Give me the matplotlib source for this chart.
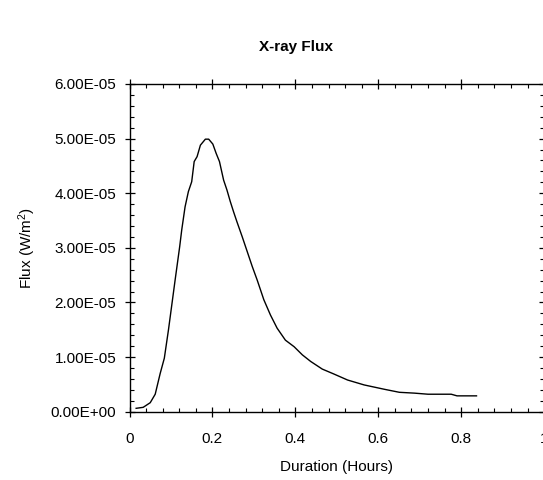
import numpy as np
import matplotlib
matplotlib.use("Agg")
import matplotlib.pyplot as plt
from matplotlib.ticker import MultipleLocator, FuncFormatter

# flux curve (hours, W/m^2 in units of 1e-5)
hours = [0.016, 0.033, 0.050, 0.062, 0.074, 0.084, 0.094, 0.110, 0.121, 0.126,
         0.134, 0.142, 0.150, 0.156, 0.163, 0.171, 0.183, 0.191, 0.201, 0.209,
         0.217, 0.227, 0.235, 0.243, 0.251, 0.259, 0.272, 0.284, 0.296, 0.308,
         0.324, 0.340, 0.356, 0.376, 0.397, 0.417, 0.437, 0.465, 0.493, 0.526,
         0.566, 0.615, 0.651, 0.687, 0.720, 0.776, 0.790, 0.837]
flux_e5 = [0.062, 0.08, 0.165, 0.32, 0.70, 0.98, 1.50, 2.41, 3.02, 3.33,
           3.75, 4.03, 4.21, 4.58, 4.67, 4.88, 4.99, 4.99, 4.90, 4.73,
           4.58, 4.24, 4.06, 3.85, 3.66, 3.48, 3.20, 2.93, 2.66, 2.41,
           2.05, 1.77, 1.53, 1.31, 1.19, 1.04, 0.92, 0.78, 0.69, 0.58,
           0.49, 0.41, 0.355, 0.34, 0.32, 0.32, 0.29, 0.29]
flux = np.array(flux_e5) * 1e-5

plt.rcParams['font.family'] = ['Liberation Sans', 'DejaVu Sans']
plt.rcParams['mathtext.default'] = 'regular'

fig = plt.figure(figsize=(5.43, 4.80), dpi=100)
ax = fig.add_axes([0.2385, 0.1423, 1.002 - 0.2385, 0.825 - 0.1423])

ax.plot(hours, flux, color='black', lw=1.0)

ax.set_xlim(0, 1)
ax.set_ylim(0, 6e-5)
ax.xaxis.set_major_locator(MultipleLocator(0.2))
ax.xaxis.set_minor_locator(MultipleLocator(0.04))
ax.yaxis.set_major_locator(MultipleLocator(1e-5))
ax.yaxis.set_minor_locator(MultipleLocator(2e-6))
ax.xaxis.set_major_formatter(FuncFormatter(lambda v, p: f"{v:g}"))
ax.yaxis.set_major_formatter(FuncFormatter(lambda v, p: f"{v:.2E}"))

ax.tick_params(which='major', direction='inout', length=7, width=0.9,
               top=True, right=True, labelsize=11)
ax.tick_params(axis='x', which='major', pad=11)
ax.tick_params(axis='y', which='major', pad=6)
ax.tick_params(which='minor', direction='in', length=3, width=0.8,
               top=True, right=True)
for s in ax.spines.values():
    s.set_linewidth(1.0)

ax.set_xlabel('Duration (Hours)', fontsize=11, labelpad=10)
ax.set_ylabel('Flux (W/m$^2$)', fontsize=11, labelpad=9)
fig.text(296 / 543, 1 - 47 / 480, 'X-ray Flux', fontsize=11, fontweight='bold',
         ha='center', va='center')

fig.savefig('out.png', dpi=100)
